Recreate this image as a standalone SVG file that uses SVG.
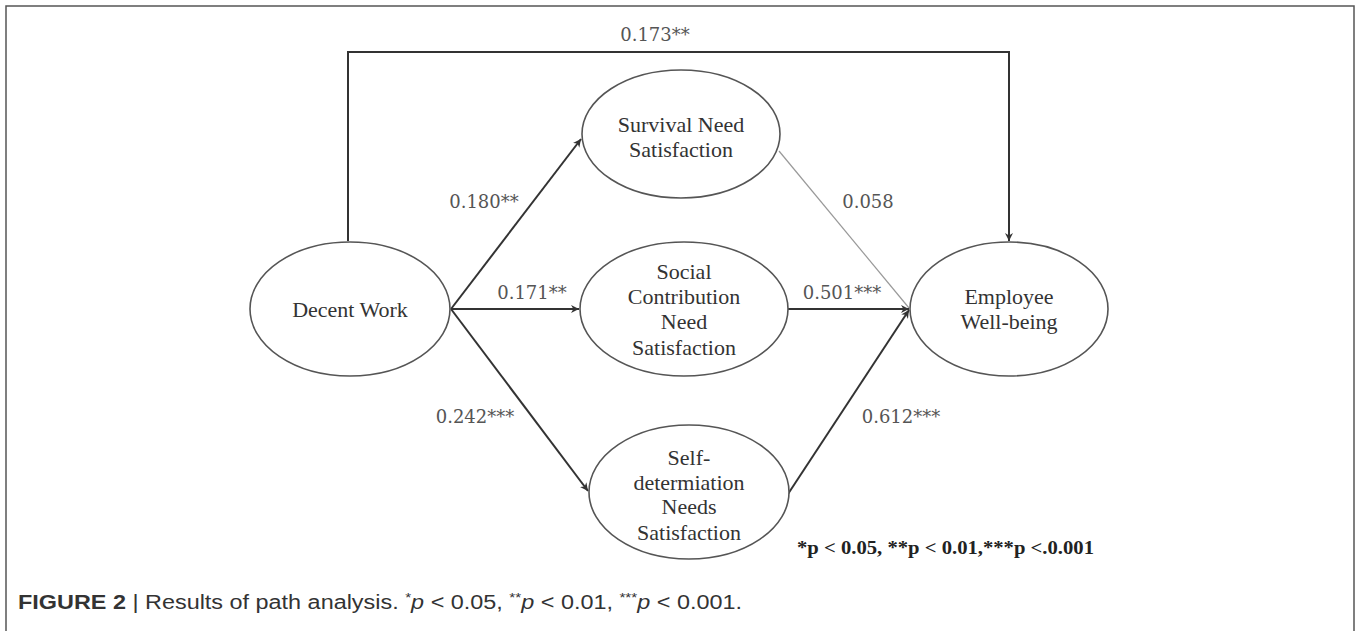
<svg xmlns="http://www.w3.org/2000/svg" width="1357" height="631" viewBox="0 0 1357 631">
<style>
.node{fill:#fff;stroke:#555;stroke-width:1.6}
.nt{font-family:"Liberation Serif","Times New Roman",serif;font-size:22px;fill:#333;text-anchor:middle}
.lab{font-family:"DejaVu Serif","Liberation Serif",serif;font-size:18px;fill:#555;text-anchor:middle}
.conn{fill:none;stroke:#333;stroke-width:2}
.thin{fill:none;stroke:#999;stroke-width:1.2}
.cap{font-family:"Liberation Sans",Arial,sans-serif;font-size:20px;fill:#333}
</style>
<defs>
<marker id="ah" viewBox="0 0 10 10" refX="10" refY="5" markerWidth="8" markerHeight="8" markerUnits="userSpaceOnUse" orient="auto">
<path d="M0,0 L10,5 L0,10 L3,5 Z" fill="#333"/>
</marker>
</defs>
<rect x="0" y="0" width="1357" height="631" fill="#fff"/>
<rect x="6" y="6" width="1348" height="640" fill="none" stroke="#555" stroke-width="1.5"/>
<g id="connectors">
<path class="conn" d="M348,241 V52 H1009 V241" marker-end="url(#ah)"/>
<line class="conn" x1="451" y1="309" x2="581" y2="139" marker-end="url(#ah)"/>
<line class="conn" x1="451" y1="309" x2="579" y2="309" marker-end="url(#ah)"/>
<line class="conn" x1="451" y1="309" x2="588" y2="491" marker-end="url(#ah)"/>
<line class="thin" x1="779" y1="151" x2="909" y2="308"/>
<line class="conn" x1="788" y1="309" x2="909" y2="309" marker-end="url(#ah)"/>
<line class="conn" x1="788" y1="494" x2="909" y2="310" marker-end="url(#ah)"/>
<text class="lab" x="655" y="41">0.173**</text>
<text class="lab" x="484" y="208">0.180**</text>
<text class="lab" x="532" y="299">0.171**</text>
<text class="lab" x="475" y="423">0.242***</text>
<text class="lab" x="868" y="208">0.058</text>
<text class="lab" x="842" y="299">0.501***</text>
<text class="lab" x="901" y="423">0.612***</text>
</g>
<g id="decent">
<ellipse class="node" cx="350" cy="309" rx="100" ry="67"/>
<text class="nt" x="350" y="317">Decent Work</text>
</g>
<g id="survival">
<ellipse class="node" cx="681" cy="134" rx="99" ry="64"/>
<text class="nt" x="681" y="132">Survival Need</text>
<text class="nt" x="681" y="157">Satisfaction</text>
</g>
<g id="social">
<ellipse class="node" cx="684" cy="309" rx="104" ry="67"/>
<text class="nt" x="684" y="279">Social</text>
<text class="nt" x="684" y="304">Contribution</text>
<text class="nt" x="684" y="329">Need</text>
<text class="nt" x="684" y="355">Satisfaction</text>
</g>
<g id="selfdet">
<ellipse class="node" cx="689" cy="492" rx="100" ry="67"/>
<text class="nt" x="689" y="465">Self-</text>
<text class="nt" x="689" y="490">determiation</text>
<text class="nt" x="689" y="514">Needs</text>
<text class="nt" x="689" y="540">Satisfaction</text>
</g>
<g id="wellbeing">
<ellipse class="node" cx="1009" cy="309" rx="99" ry="67"/>
<text class="nt" x="1009" y="304">Employee</text>
<text class="nt" x="1009" y="329">Well-being</text>
</g>
<text x="797" y="554" font-family="Liberation Serif, serif" font-size="19" font-weight="bold" fill="#222" textLength="297" lengthAdjust="spacingAndGlyphs">*p &lt; 0.05, **p &lt; 0.01,***p &lt;.0.001</text>
<text class="cap" x="18" y="609" textLength="724" lengthAdjust="spacingAndGlyphs"><tspan font-weight="bold">FIGURE 2</tspan> | Results of path analysis. <tspan font-size="13" dy="-7">*</tspan><tspan font-style="italic" dy="7">p</tspan> &lt; 0.05, <tspan font-size="13" dy="-7">**</tspan><tspan font-style="italic" dy="7">p</tspan> &lt; 0.01, <tspan font-size="13" dy="-7">***</tspan><tspan font-style="italic" dy="7">p</tspan> &lt; 0.001.</text>
</svg>
